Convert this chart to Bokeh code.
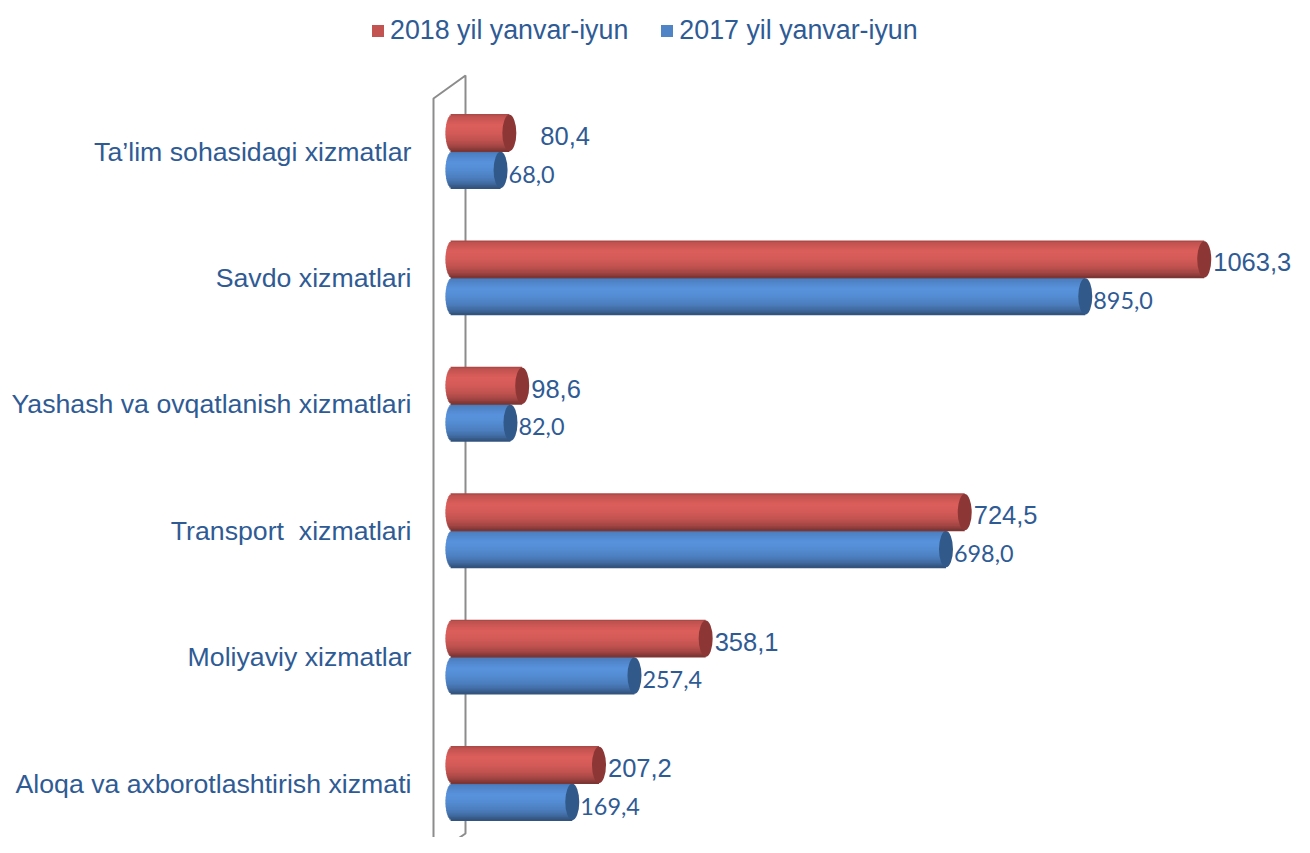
import math
from bokeh.plotting import figure
from bokeh.models import ColumnDataSource, Legend, LegendItem, Range1d
from bokeh.core.properties import value
from bokeh.embed import file_html
from bokeh.resources import INLINE

# ---------------- data ----------------
categories = [
    "Ta’lim sohasidagi xizmatlar",
    "Savdo xizmatlari",
    "Yashash va ovqatlanish xizmatlari",
    "Transport  xizmatlari",
    "Moliyaviy xizmatlar",
    "Aloqa va axborotlashtirish xizmati",
]
series_names = ["2018 yil yanvar-iyun", "2017 yil yanvar-iyun"]
values_2018 = [80.4, 1063.3, 98.6, 724.5, 358.1, 207.2]
values_2017 = [68.0, 895.0, 82.0, 698.0, 257.4, 169.4]

# ---------------- layout / style ----------------
W, H = 1294, 837
X0_PX, SX = 452.0, 0.707      # pixel of value 0, pixels per unit
Y0_PX, SY = 783.0, 126.4      # pixel of bottom category centre, px per category
BAR_PX = 37.0
CAP_PX = 14.0
TEXT_COLOR = "#2F5B95"
BASE = {"2018": (200, 86, 83), "2017": (80, 133, 200)}
CAP = {"2018": "#8C3735", "2017": "#31598A"}

n = len(categories)
ypos = [n - 1 - k for k in range(n)]
h = BAR_PX / SY
r_data = (CAP_PX / 2) / SX

p = figure(width=W, height=H, output_backend="svg", toolbar_location=None,
           x_range=Range1d(-X0_PX / SX, (W - X0_PX) / SX),
           y_range=Range1d(-(H - Y0_PX) / SY, Y0_PX / SY),
           min_border=0, outline_line_color=None)
p.axis.visible = False
p.grid.visible = False
p.background_fill_color = "white"
p.border_fill_color = "white"


def px2x(px):
    return (px - X0_PX) / SX


def px2y(py):
    return (Y0_PX - py) / SY


# 3D wall outline (pixel geometry)
wall_px = [(433, 860), (433, 98), (465, 75), (465, 833), (433, 855)]
p.line([px2x(a) for a, b in wall_px], [px2y(b) for a, b in wall_px],
       line_color="#8C8C8C", line_width=2)

# shading profile across the cylinder (top -> bottom)
prof_t = [0.0, 0.06, 0.3, 0.5, 0.72, 0.88, 1.0]
prof_m = [0.82, 0.96, 1.10, 1.06, 0.95, 0.80, 0.60]


def mult(t):
    for i in range(len(prof_t) - 1):
        if prof_t[i] <= t <= prof_t[i + 1]:
            f = (t - prof_t[i]) / (prof_t[i + 1] - prof_t[i])
            return prof_m[i] + f * (prof_m[i + 1] - prof_m[i])
    return prof_m[-1]


def shade(rgb, m):
    return "#%02x%02x%02x" % tuple(max(0, min(255, int(round(c * m)))) for c in rgb)


NB = 26


def draw_series(vals, key, sign):
    ys, lefts, rights, cols = [], [], [], []
    for yc, v in zip(ypos, vals):
        c = yc + sign * h / 2
        for i in range(NB):
            t = (i + 0.5) / NB
            u = 2 * (t - 0.5)
            ys.append(c + (0.5 - t) * h)
            lefts.append(-r_data * math.sqrt(max(0.0, 1 - u * u)))
            rights.append(v)
            cols.append(shade(BASE[key], mult(t)))
    src = ColumnDataSource(dict(y=ys, left=lefts, right=rights, color=cols))
    p.hbar(y="y", left="left", right="right", height=h / NB * 1.6,
           fill_color="color", line_color=None, source=src)
    caps = ColumnDataSource(dict(x=vals, y=[yc + sign * h / 2 for yc in ypos]))
    p.ellipse(x="x", y="y", width=CAP_PX, height=h * 0.98, width_units="screen",
              fill_color=CAP[key], line_color=None, source=caps)


draw_series(values_2017, "2017", -1)
draw_series(values_2018, "2018", +1)


def fmt(v):
    return f"{v:.1f}".replace(".", ",")


# value labels
extra_2018 = [22, 0, 0, 0, 0, 0]
lab18 = ColumnDataSource(dict(x=values_2018, y=[yc + h / 2 for yc in ypos],
                              t=[fmt(v) for v in values_2018],
                              xo=[CAP_PX / 2 + 2 + e for e in extra_2018]))
p.text(x="x", y="y", text="t", x_offset="xo", y_offset=3, source=lab18,
       text_font=value("Liberation Sans"), text_font_size="25.5px",
       text_color=TEXT_COLOR, text_baseline="middle", text_align="left")
lab17 = ColumnDataSource(dict(x=values_2017, y=[yc - h / 2 for yc in ypos],
                              t=[fmt(v) for v in values_2017]))
p.text(x="x", y="y", text="t", x_offset=CAP_PX / 2 + 1, y_offset=4, source=lab17,
       text_font=value("Lato"), text_font_size="23.4px",
       text_color=TEXT_COLOR, text_baseline="middle", text_align="left")

# category labels
cat_src = ColumnDataSource(dict(x=[px2x(411)] * n, y=ypos,
                                t=[c.replace("  ", " \u00a0") for c in categories]))
p.text(x="x", y="y", text="t", source=cat_src,
       text_font=value("Liberation Sans"), text_font_size="26.7px",
       text_color=TEXT_COLOR, text_baseline="middle", text_align="right")

# legend (renderers placed outside the visible range)
off = ColumnDataSource(dict(y=[-50], r=[1]))
lr18 = p.hbar(y="y", right="r", height=1, fill_color=shade(BASE["2018"], 0.97),
              line_color=None, source=off)
lr17 = p.hbar(y="y", right="r", height=1, fill_color=shade(BASE["2017"], 0.99),
              line_color=None, source=off)
legend = Legend(items=[LegendItem(label=series_names[0], renderers=[lr18]),
                       LegendItem(label=series_names[1], renderers=[lr17])],
                orientation="horizontal", location=(370, 791),
                glyph_width=15, glyph_height=15, label_standoff=5, spacing=31,
                padding=0, margin=0, border_line_alpha=0, background_fill_alpha=0,
                label_text_font="Liberation Sans", label_text_font_size="26.8px",
                label_text_color=TEXT_COLOR)
p.add_layout(legend)

open("out.html", "w").write(file_html(p, INLINE))
